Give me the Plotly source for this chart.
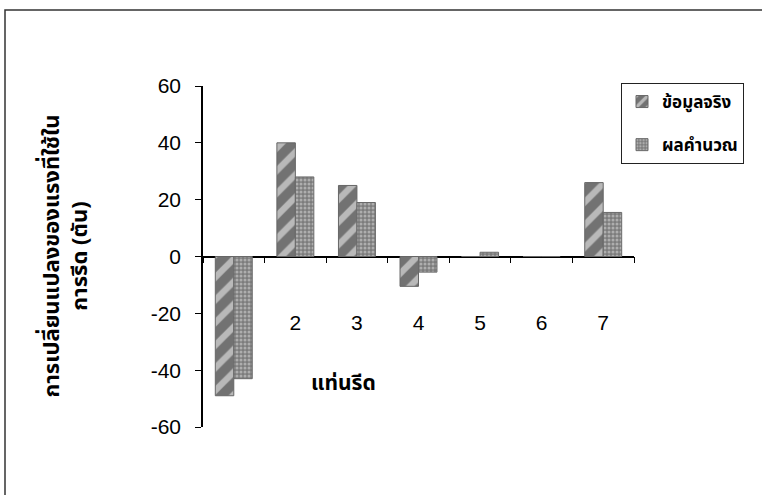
import plotly.graph_objects as go

categories = ["1", "2", "3", "4", "5", "6", "7"]
actual = [-49, 40, 25, -10.5, 0, 0, 26]
calculated = [-43, 28, 19, -5.5, 1.5, 0, 15.5]
series_names = ["ข้อมูลจริง", "ผลคำนวณ"]
y_ticks = [-60, -40, -20, 0, 20, 40, 60]
y_tick_text = ["-60", "-40", "-20", "0", "20", "40", "60"]

W, H = 762, 495
L, R, T, B = 203, 128, 86, 68
pw, ph = W - L - R, H - T - B

def px_x(x):
    return (x - L) / pw

def px_y(y):
    return (H - B - y) / ph

thai = "Tahoma, 'Noto Sans Thai', 'Noto Sans Thai Looped', 'Loma', 'Garuda', sans-serif"
num = "Arial, 'Liberation Sans', sans-serif"

fig = go.Figure()
fig.add_trace(go.Bar(
    x=categories, y=actual, name=series_names[0], legendgroup="a",
    marker=dict(color="#727272",
                line=dict(color="#666666", width=1),
                pattern=dict(shape="/", fgcolor="#ffffff", bgcolor="#727272",
                             size=16, solidity=0.4, fillmode="overlay")),
))
fig.add_trace(go.Bar(
    x=categories, y=calculated, name=series_names[1], legendgroup="b",
    marker=dict(color="#808080",
                line=dict(color="#6a6a6a", width=1),
                pattern=dict(shape=".", fgcolor="#e0e0e0", bgcolor="#7c7c7c",
                             size=4, solidity=0.45, fillmode="overlay")),
))

fig.update_layout(
    width=W, height=H,
    margin=dict(l=L, r=R, t=T, b=B, autoexpand=False),
    paper_bgcolor="white", plot_bgcolor="white",
    barmode="group", bargap=0.4, bargroupgap=0,
    showlegend=True,
    legend=dict(x=px_x(621), y=px_y(83), xanchor="left", yanchor="top",
                bordercolor="#222", borderwidth=1, bgcolor="white",
                font=dict(family=thai, size=17, color="black", weight="bold"),
                traceorder="grouped", tracegroupgap=18,
                itemwidth=30),
    xaxis=dict(type="category", anchor="free", position=0.5,
               showline=True, linecolor="black", linewidth=1.5,
               ticks="outside", tickson="boundaries", ticklen=6,
               tickcolor="black", tickwidth=1,
               showgrid=False, zeroline=False, layer="below traces",
               ticklabelstandoff=48,
               tickfont=dict(family=num, size=21, color="black")),
    yaxis=dict(range=[-60, 60], tickvals=y_ticks, ticktext=y_tick_text,
               showline=True, linecolor="black", linewidth=1.5,
               ticks="outside", ticklen=6, tickcolor="black",
               showgrid=False, zeroline=False, ticklabelstandoff=10,
               tickfont=dict(family=num, size=21, color="black")),
    annotations=[
        dict(text="<b>การเปลี่ยนแปลงของแรงที่ใช้ใน<br>การรีด (ตัน)</b>",
             x=px_x(66), y=0.5, xref="paper", yref="paper",
             xanchor="center", yanchor="middle", textangle=-90,
             showarrow=False, font=dict(family=thai, size=22, color="black")),
        dict(text="<b>แท่นรีด</b>",
             x=px_x(343), y=px_y(383), xref="paper", yref="paper",
             xanchor="center", yanchor="middle",
             showarrow=False, font=dict(family=thai, size=21, color="black")),
    ],
    shapes=[
        dict(type="rect", xref="paper", yref="paper",
             x0=px_x(5), y0=px_y(520), x1=px_x(790), y1=px_y(10),
             line=dict(color="#333", width=1.5), layer="below"),
    ],
)

fig.write_html("out.html", config={"displayModeBar": False},
               post_script="document.body.style.margin='0';")
